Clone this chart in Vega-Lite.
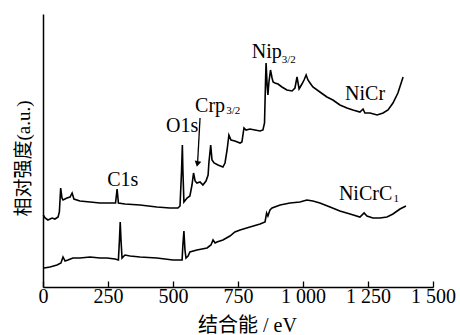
{
  "$schema": "https://vega.github.io/schema/vega-lite/v6.json",
  "width": 390,
  "height": 273,
  "autosize": "none",
  "padding": {"left": 43, "top": 14, "right": 27, "bottom": 48},
  "background": "white",
  "config": {"view": {"stroke": null}, "font": "Liberation Serif"},
  "datasets": {
    "spectra": [
      {"series": "NiCr", "eV": 1, "intensity": 72}, {"series": "NiCr", "eV": 8, "intensity": 69}, {"series": "NiCr", "eV": 19, "intensity": 67}, {"series": "NiCr", "eV": 35, "intensity": 69}, {"series": "NiCr", "eV": 46, "intensity": 68}, {"series": "NiCr", "eV": 58, "intensity": 70}, {"series": "NiCr", "eV": 63, "intensity": 75}, {"series": "NiCr", "eV": 68, "intensity": 99}, {"series": "NiCr", "eV": 73, "intensity": 89}, {"series": "NiCr", "eV": 77, "intensity": 87}, {"series": "NiCr", "eV": 92, "intensity": 89}, {"series": "NiCr", "eV": 104, "intensity": 90}, {"series": "NiCr", "eV": 112, "intensity": 94}, {"series": "NiCr", "eV": 119, "intensity": 88}, {"series": "NiCr", "eV": 142, "intensity": 86}, {"series": "NiCr", "eV": 181, "intensity": 85}, {"series": "NiCr", "eV": 219, "intensity": 84}, {"series": "NiCr", "eV": 246, "intensity": 84}, {"series": "NiCr", "eV": 279, "intensity": 84}, {"series": "NiCr", "eV": 285, "intensity": 98}, {"series": "NiCr", "eV": 290, "intensity": 84}, {"series": "NiCr", "eV": 315, "intensity": 83}, {"series": "NiCr", "eV": 373, "intensity": 82}, {"series": "NiCr", "eV": 438, "intensity": 80}, {"series": "NiCr", "eV": 488, "intensity": 79}, {"series": "NiCr", "eV": 519, "intensity": 79}, {"series": "NiCr", "eV": 527, "intensity": 81}, {"series": "NiCr", "eV": 533, "intensity": 117}, {"series": "NiCr", "eV": 536, "intensity": 142}, {"series": "NiCr", "eV": 538, "intensity": 117}, {"series": "NiCr", "eV": 542, "intensity": 85}, {"series": "NiCr", "eV": 554, "intensity": 89}, {"series": "NiCr", "eV": 565, "intensity": 91}, {"series": "NiCr", "eV": 573, "intensity": 102}, {"series": "NiCr", "eV": 579, "intensity": 114}, {"series": "NiCr", "eV": 585, "intensity": 106}, {"series": "NiCr", "eV": 592, "intensity": 104}, {"series": "NiCr", "eV": 604, "intensity": 105}, {"series": "NiCr", "eV": 615, "intensity": 102}, {"series": "NiCr", "eV": 627, "intensity": 106}, {"series": "NiCr", "eV": 635, "intensity": 112}, {"series": "NiCr", "eV": 638, "intensity": 124}, {"series": "NiCr", "eV": 645, "intensity": 142}, {"series": "NiCr", "eV": 650, "intensity": 127}, {"series": "NiCr", "eV": 658, "intensity": 124}, {"series": "NiCr", "eV": 673, "intensity": 122}, {"series": "NiCr", "eV": 692, "intensity": 120}, {"series": "NiCr", "eV": 700, "intensity": 124}, {"series": "NiCr", "eV": 708, "intensity": 137}, {"series": "NiCr", "eV": 715, "intensity": 152}, {"series": "NiCr", "eV": 723, "intensity": 147}, {"series": "NiCr", "eV": 738, "intensity": 146}, {"series": "NiCr", "eV": 758, "intensity": 144}, {"series": "NiCr", "eV": 765, "intensity": 145}, {"series": "NiCr", "eV": 773, "intensity": 159}, {"series": "NiCr", "eV": 781, "intensity": 157}, {"series": "NiCr", "eV": 796, "intensity": 158}, {"series": "NiCr", "eV": 815, "intensity": 157}, {"series": "NiCr", "eV": 835, "intensity": 156}, {"series": "NiCr", "eV": 846, "intensity": 157}, {"series": "NiCr", "eV": 852, "intensity": 164}, {"series": "NiCr", "eV": 856, "intensity": 207}, {"series": "NiCr", "eV": 858, "intensity": 224}, {"series": "NiCr", "eV": 862, "intensity": 202}, {"series": "NiCr", "eV": 865, "intensity": 192}, {"series": "NiCr", "eV": 869, "intensity": 205}, {"series": "NiCr", "eV": 875, "intensity": 217}, {"series": "NiCr", "eV": 881, "intensity": 209}, {"series": "NiCr", "eV": 885, "intensity": 205}, {"series": "NiCr", "eV": 892, "intensity": 204}, {"series": "NiCr", "eV": 904, "intensity": 203}, {"series": "NiCr", "eV": 919, "intensity": 200}, {"series": "NiCr", "eV": 938, "intensity": 197}, {"series": "NiCr", "eV": 958, "intensity": 196}, {"series": "NiCr", "eV": 969, "intensity": 199}, {"series": "NiCr", "eV": 977, "intensity": 210}, {"series": "NiCr", "eV": 985, "intensity": 198}, {"series": "NiCr", "eV": 996, "intensity": 203}, {"series": "NiCr", "eV": 1004, "intensity": 207}, {"series": "NiCr", "eV": 1012, "intensity": 212}, {"series": "NiCr", "eV": 1019, "intensity": 207}, {"series": "NiCr", "eV": 1027, "intensity": 204}, {"series": "NiCr", "eV": 1038, "intensity": 200}, {"series": "NiCr", "eV": 1065, "intensity": 195}, {"series": "NiCr", "eV": 1092, "intensity": 190}, {"series": "NiCr", "eV": 1115, "intensity": 187}, {"series": "NiCr", "eV": 1142, "intensity": 182}, {"series": "NiCr", "eV": 1169, "intensity": 179}, {"series": "NiCr", "eV": 1192, "intensity": 177}, {"series": "NiCr", "eV": 1219, "intensity": 175}, {"series": "NiCr", "eV": 1231, "intensity": 178}, {"series": "NiCr", "eV": 1238, "intensity": 174}, {"series": "NiCr", "eV": 1258, "intensity": 174}, {"series": "NiCr", "eV": 1285, "intensity": 172}, {"series": "NiCr", "eV": 1308, "intensity": 174}, {"series": "NiCr", "eV": 1327, "intensity": 177}, {"series": "NiCr", "eV": 1346, "intensity": 184}, {"series": "NiCr", "eV": 1365, "intensity": 194}, {"series": "NiCr", "eV": 1385, "intensity": 210},
      {"series": "NiCrC1", "eV": 4, "intensity": 19}, {"series": "NiCrC1", "eV": 27, "intensity": 20}, {"series": "NiCrC1", "eV": 54, "intensity": 22}, {"series": "NiCrC1", "eV": 69, "intensity": 24}, {"series": "NiCrC1", "eV": 77, "intensity": 30}, {"series": "NiCrC1", "eV": 85, "intensity": 26}, {"series": "NiCrC1", "eV": 96, "intensity": 27}, {"series": "NiCrC1", "eV": 115, "intensity": 29}, {"series": "NiCrC1", "eV": 142, "intensity": 29}, {"series": "NiCrC1", "eV": 181, "intensity": 30}, {"series": "NiCrC1", "eV": 219, "intensity": 29}, {"series": "NiCrC1", "eV": 246, "intensity": 29}, {"series": "NiCrC1", "eV": 277, "intensity": 28}, {"series": "NiCrC1", "eV": 290, "intensity": 27}, {"series": "NiCrC1", "eV": 294, "intensity": 47}, {"series": "NiCrC1", "eV": 297, "intensity": 65}, {"series": "NiCrC1", "eV": 300, "intensity": 47}, {"series": "NiCrC1", "eV": 304, "intensity": 29}, {"series": "NiCrC1", "eV": 315, "intensity": 32}, {"series": "NiCrC1", "eV": 335, "intensity": 31}, {"series": "NiCrC1", "eV": 373, "intensity": 30}, {"series": "NiCrC1", "eV": 438, "intensity": 29}, {"series": "NiCrC1", "eV": 500, "intensity": 27}, {"series": "NiCrC1", "eV": 535, "intensity": 27}, {"series": "NiCrC1", "eV": 538, "intensity": 42}, {"series": "NiCrC1", "eV": 542, "intensity": 56}, {"series": "NiCrC1", "eV": 546, "intensity": 37}, {"series": "NiCrC1", "eV": 550, "intensity": 29}, {"series": "NiCrC1", "eV": 558, "intensity": 31}, {"series": "NiCrC1", "eV": 565, "intensity": 35}, {"series": "NiCrC1", "eV": 592, "intensity": 37}, {"series": "NiCrC1", "eV": 631, "intensity": 39}, {"series": "NiCrC1", "eV": 646, "intensity": 42}, {"series": "NiCrC1", "eV": 654, "intensity": 47}, {"series": "NiCrC1", "eV": 662, "intensity": 44}, {"series": "NiCrC1", "eV": 669, "intensity": 45}, {"series": "NiCrC1", "eV": 692, "intensity": 47}, {"series": "NiCrC1", "eV": 719, "intensity": 51}, {"series": "NiCrC1", "eV": 738, "intensity": 55}, {"series": "NiCrC1", "eV": 758, "intensity": 57}, {"series": "NiCrC1", "eV": 796, "intensity": 60}, {"series": "NiCrC1", "eV": 835, "intensity": 63}, {"series": "NiCrC1", "eV": 854, "intensity": 65}, {"series": "NiCrC1", "eV": 860, "intensity": 74}, {"series": "NiCrC1", "eV": 865, "intensity": 71}, {"series": "NiCrC1", "eV": 873, "intensity": 77}, {"series": "NiCrC1", "eV": 881, "intensity": 79}, {"series": "NiCrC1", "eV": 912, "intensity": 82}, {"series": "NiCrC1", "eV": 950, "intensity": 84}, {"series": "NiCrC1", "eV": 988, "intensity": 85}, {"series": "NiCrC1", "eV": 1015, "intensity": 87}, {"series": "NiCrC1", "eV": 1038, "intensity": 86}, {"series": "NiCrC1", "eV": 1065, "intensity": 84}, {"series": "NiCrC1", "eV": 1104, "intensity": 80}, {"series": "NiCrC1", "eV": 1142, "intensity": 76}, {"series": "NiCrC1", "eV": 1181, "intensity": 73}, {"series": "NiCrC1", "eV": 1219, "intensity": 70}, {"series": "NiCrC1", "eV": 1235, "intensity": 74}, {"series": "NiCrC1", "eV": 1246, "intensity": 71}, {"series": "NiCrC1", "eV": 1269, "intensity": 69}, {"series": "NiCrC1", "eV": 1296, "intensity": 69}, {"series": "NiCrC1", "eV": 1323, "intensity": 70}, {"series": "NiCrC1", "eV": 1346, "intensity": 73}, {"series": "NiCrC1", "eV": 1373, "intensity": 78}, {"series": "NiCrC1", "eV": 1396, "intensity": 81}
    ],
    "labels": [
      {"eV": 247, "intensity": 101, "label": "C1s"},
      {"eV": 473, "intensity": 155, "label": "O1s"},
      {"eV": 585, "intensity": 175, "label": "Crp"},
      {"eV": 803, "intensity": 229, "label": "Nip"},
      {"eV": 1162, "intensity": 187, "label": "NiCr"},
      {"eV": 1138, "intensity": 87, "label": "NiCrC"}
    ],
    "subs": [
      {"eV": 705, "intensity": 173, "label": "3/2"},
      {"eV": 918, "intensity": 224, "label": "3/2"},
      {"eV": 1348, "intensity": 85, "label": "1"}
    ],
    "arrow": [
      {"eV": 604, "intensity": 169, "eV2": 595, "intensity2": 126}
    ],
    "arrowhead": [
      {"eV": 594, "intensity": 123}
    ]
  },
  "layer": [
    {
      "data": {"name": "spectra"},
      "mark": {"type": "line", "color": "black", "strokeWidth": 1.6, "interpolate": "linear"},
      "encoding": {
        "x": {
          "field": "eV", "type": "quantitative",
          "scale": {"domain": [0, 1500], "nice": false, "zero": false},
          "axis": {
            "values": [0, 250, 500, 750, 1000, 1250, 1500],
            "labelExpr": "replace(format(datum.value, ','), ',', ' ')",
            "title": "结合能 / eV",
            "titleFont": "Liberation Serif, Noto Sans CJK SC",
            "titleFontSize": 20,
            "titleFontWeight": "normal",
            "titleColor": "black",
            "titleX": 204,
            "titleY": 28,
            "titleBaseline": "top",
            "titleAlign": "center",
            "labelFont": "Liberation Serif",
            "labelFontSize": 20,
            "labelColor": "black",
            "labelPadding": 5,
            "labelFlush": false,
            "labelOverlap": false,
            "tickSize": -6,
            "tickColor": "black",
            "tickWidth": 1.3,
            "domainColor": "black",
            "domainWidth": 1.5,
            "grid": false
          }
        },
        "y": {
          "field": "intensity", "type": "quantitative",
          "scale": {"domain": [0, 273], "nice": false, "zero": false},
          "axis": {
            "title": "相对强度(a.u.)",
            "titleFont": "Liberation Serif, Noto Sans CJK SC",
            "titleFontSize": 19,
            "titleFontWeight": "normal",
            "titleColor": "black",
            "titleAngle": -90,
            "titleX": -20,
            "titleY": 144,
            "titleAlign": "center",
            "titleBaseline": "middle",
            "labels": false,
            "ticks": false,
            "domainColor": "black",
            "domainWidth": 1.5,
            "grid": false
          }
        },
        "detail": {"field": "series", "type": "nominal"}
      }
    },
    {
      "data": {"name": "labels"},
      "mark": {"type": "text", "align": "left", "baseline": "alphabetic", "font": "Liberation Serif", "fontSize": 20, "color": "black"},
      "encoding": {
        "x": {"field": "eV", "type": "quantitative"},
        "y": {"field": "intensity", "type": "quantitative"},
        "text": {"field": "label", "type": "nominal"}
      }
    },
    {
      "data": {"name": "subs"},
      "mark": {"type": "text", "align": "left", "baseline": "alphabetic", "font": "Liberation Serif", "fontSize": 11, "color": "black"},
      "encoding": {
        "x": {"field": "eV", "type": "quantitative"},
        "y": {"field": "intensity", "type": "quantitative"},
        "text": {"field": "label", "type": "nominal"}
      }
    },
    {
      "data": {"name": "arrow"},
      "mark": {"type": "rule", "color": "black", "strokeWidth": 1.3},
      "encoding": {
        "x": {"field": "eV", "type": "quantitative"},
        "y": {"field": "intensity", "type": "quantitative"},
        "x2": {"field": "eV2"},
        "y2": {"field": "intensity2"}
      }
    },
    {
      "data": {"name": "arrowhead"},
      "mark": {"type": "point", "shape": "triangle-down", "filled": true, "color": "black", "size": 45, "angle": 12, "opacity": 1},
      "encoding": {
        "x": {"field": "eV", "type": "quantitative"},
        "y": {"field": "intensity", "type": "quantitative"}
      }
    }
  ]
}
